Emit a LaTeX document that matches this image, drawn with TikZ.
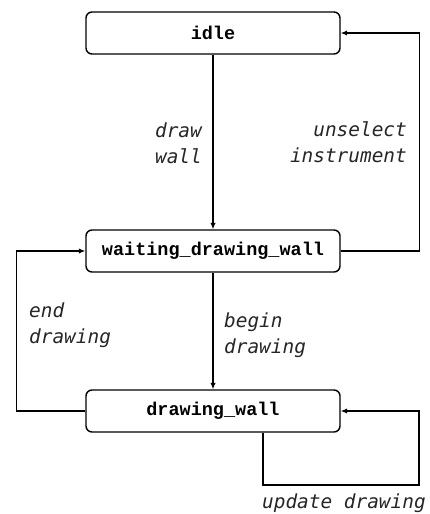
\documentclass[tikz,border=0pt]{standalone}
\usepackage{fontspec}
\usetikzlibrary{arrows.meta}
\newfontfamily\statefont{Liberation Mono}
\newfontfamily\labelfont{DejaVu Sans Mono}
\begin{document}
\begin{tikzpicture}[x=1pt,y=-1pt,
  state/.style={draw, rounded corners=6pt, line width=1.4pt,
    minimum width=254pt, minimum height=42pt, inner sep=0pt,
    font=\statefont\bfseries\fontsize{18.5}{20}\selectfont},
  conn/.style={line width=1.3pt, -{Latex[length=6.5pt,width=5.5pt]}},
  lbl/.style={inner sep=0pt, text=black!85,
    font=\labelfont\itshape\fontsize{19.4}{26}\selectfont}]
\useasboundingbox (0,0) rectangle (429,514);

% states
\node[state] (idle) at (213,33)  {idle};
\node[state] (wait) at (213,251) {waiting\_drawing\_wall};
\node[state] (drw)  at (213,411) {drawing\_wall};

% transitions
\draw[conn] (idle.south) -- (wait.north);
\draw[conn] (wait.south) -- (drw.north);
\draw[conn] (wait.east) -- ++(79,0) |- (idle.east);
\draw[conn] (drw.west) -- ++(-69,0) |- (wait.west);
\coordinate (loop) at (419,485);
\draw[conn] ([xshift=50pt]drw.south) |- (loop) |- (drw.east);

% transition labels
\node[lbl, anchor=north east, align=right] (ldraw) at (202,123) {draw\\wall};
\node[lbl, anchor=north east, align=right] (lunsel) at (407,121) {unselect\\instrument};
\node[lbl, anchor=north west, align=left] (lend) at (29,303) {end\\drawing};
\node[lbl, anchor=north west, align=left] (lbegin) at (224,313) {begin\\drawing};
\node[lbl, anchor=north west] (lupd) at (262,494) {update drawing};
\end{tikzpicture}
\end{document}
